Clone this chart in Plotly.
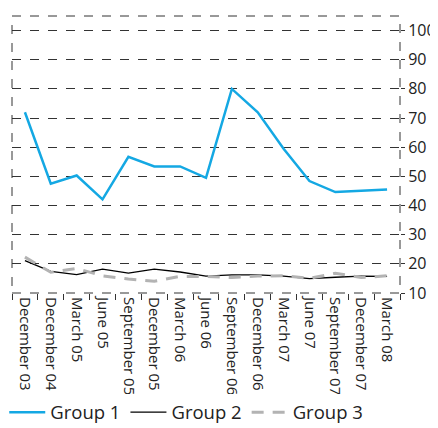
import plotly.graph_objects as go

categories = ["December 03", "December 04", "March 05", "June 05", "September 05",
              "December 05", "March 06", "June 06", "September 06", "December 06",
              "March 07", "June 07", "September 07", "December 07", "March 08"]
group1 = [72, 47.5, 50.3, 42.1, 56.7, 53.4, 53.4, 49.5, 80, 72, 59.5, 48.4, 44.6, 45, 45.5]
group2 = [21.1, 17.4, 16.3, 18.2, 16.8, 18.2, 17.2, 15.8, 16.2, 16.2, 15.8, 14.9, 15.4, 15.8, 15.7]
group3 = [22.3, 17.1, 18.4, 15.9, 14.8, 14.0, 15.7, 15.7, 15.3, 15.8, 15.9, 15.0, 16.8, 15.3, 15.9]
y_ticks = [10, 20, 30, 40, 50, 60, 70, 80, 90, 100]

FONT = "Open Sans"

fig = go.Figure()
fig.add_trace(go.Scatter(x=categories, y=group1, name="Group 1", mode="lines",
                         line=dict(color="#14A8E3", width=2.5)))
fig.add_trace(go.Scatter(x=categories, y=group2, name="Group 2", mode="lines",
                         line=dict(color="#000000", width=1.3)))
fig.add_trace(go.Scatter(x=categories, y=group3, name="Group 3", mode="lines",
                         line=dict(color="#B3B3B3", width=3, dash="12px,9px")))

# page body has an 8px default margin; figure is sized to compensate
fig.update_layout(
    width=430, height=420,
    margin=dict(l=4, r=38, t=8, b=135, autoexpand=False),
    paper_bgcolor="white", plot_bgcolor="white",
    font=dict(family=FONT, color="#222222"),
    showlegend=True,
    legend=dict(orientation="h", x=-0.02, y=-0.432, xanchor="left", yanchor="middle",
                font=dict(size=18.5, family=FONT, color="#222222"),
                itemwidth=36, tracegroupgap=0),
    xaxis=dict(type="category", categoryorder="array", categoryarray=categories,
               tickson="boundaries", ticks="outside", ticklen=6, tickcolor="#333333",
               tickangle=90, tickfont=dict(size=15, family=FONT, color="#222222"),
               ticklabelstandoff=3, automargin=False,
               showgrid=False, showline=False, zeroline=False,
               range=[-0.5, len(categories) - 0.5]),
    yaxis=dict(side="right", range=[10, 105], tickvals=y_ticks,
               ticks="outside", ticklen=4, tickcolor="#333333", automargin=False,
               ticklabelstandoff=0,
               tickfont=dict(size=16, family=FONT, color="#222222"),
               showgrid=True, gridcolor="#333333", griddash="dash", gridwidth=1,
               zeroline=False, showline=False),
)

# dashed plot border
fig.add_shape(type="rect", xref="x domain", yref="y domain", x0=0, x1=1, y0=0, y1=1,
              line=dict(color="#333333", width=1, dash="dash"), layer="below")

fig.write_html("out.html")
